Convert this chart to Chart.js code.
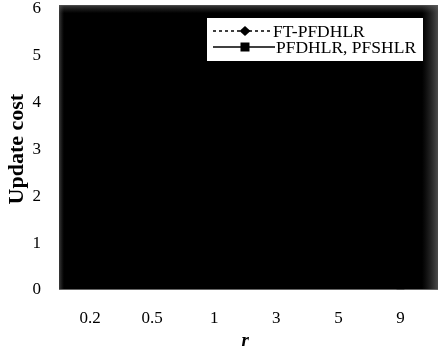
<!DOCTYPE html>
<html>
<head>
<meta charset="utf-8">
<script src="https://cdn.jsdelivr.net/npm/chart.js@4"></script>
<style>
  html, body { margin: 0; padding: 0; background: #fff; }
  #wrap { width: 438px; height: 356px; position: relative; overflow: hidden; }
  #chart { position: absolute; left: 0; top: -20px; }
</style>
</head>
<body>
<div id="wrap"><canvas id="chart" width="438" height="376"></canvas></div>
<script>
  // values (lines are hidden in the dark plot area, estimates)
  const rValues = ['0.2', '0.5', '1', '3', '5', '9'];
  const ftPfdhlr = [0.6, 0.5, 0.4, 0.3, 0.2, 0.15];
  const pfdhlr = [0.4, 0.35, 0.3, 0.2, 0.15, 0.1];
  const yTicks = [0, 1, 2, 3, 4, 5, 6];

  const serif = '"Liberation Serif", "Times New Roman", serif';
  const shift = 20; // canvas is moved up by this much

  // dark plot background like the scan
  const plotBg = {
    id: 'plotBg',
    beforeDatasetsDraw(chart) {
      const { ctx, chartArea: a } = chart;
      const top = a.top - 3;
      const right = chart.width;
      ctx.save();
      ctx.fillStyle = '#000';
      ctx.fillRect(a.left, top, right - a.left, a.bottom - top);
      let g = ctx.createLinearGradient(right - 16, 0, right, 0);
      g.addColorStop(0, 'rgba(70,70,70,0)');
      g.addColorStop(1, 'rgba(100,100,100,0.75)');
      ctx.fillStyle = g;
      ctx.fillRect(right - 16, top, 16, a.bottom - top);
      g = ctx.createLinearGradient(a.left, 0, a.left + 5, 0);
      g.addColorStop(0, 'rgba(100,100,100,0.6)');
      g.addColorStop(1, 'rgba(70,70,70,0)');
      ctx.fillStyle = g;
      ctx.fillRect(a.left, top, 5, a.bottom - top);
      g = ctx.createLinearGradient(0, top, 0, top + 8);
      g.addColorStop(0, 'rgba(100,100,100,0.6)');
      g.addColorStop(1, 'rgba(70,70,70,0)');
      ctx.fillStyle = g;
      ctx.fillRect(a.left, top, right - a.left, 8);
      ctx.fillStyle = '#666';
      ctx.fillRect(a.left, a.bottom - 1, right - a.left, 1);
      ctx.restore();
    }
  };

  // boxed legend in the top right corner
  const boxLegend = {
    id: 'boxLegend',
    afterDraw(chart) {
      const { ctx } = chart;
      const x = 207, y = 18 + shift, w = 216, h = 43;
      ctx.save();
      ctx.fillStyle = '#fff';
      ctx.fillRect(x, y, w, h);
      ctx.strokeStyle = '#000';
      ctx.lineWidth = 1.5;
      ctx.font = '17.5px ' + serif;
      ctx.fillStyle = '#000';
      ctx.textBaseline = 'middle';
      chart.data.datasets.forEach((ds, i) => {
        const ly = y + 13 + i * 16;
        ctx.setLineDash(ds.borderDash || []);
        ctx.beginPath();
        ctx.moveTo(x + 6, ly);
        ctx.lineTo(x + (i ? 68 : 63), ly);
        ctx.stroke();
        ctx.setLineDash([]);
        const mx = x + 38;
        ctx.beginPath();
        if (ds.pointStyle === 'rectRot') {
          ctx.moveTo(mx, ly - 5); ctx.lineTo(mx + 5.5, ly); ctx.lineTo(mx, ly + 5); ctx.lineTo(mx - 5.5, ly);
        } else {
          ctx.rect(mx - 4.5, ly - 4.5, 9, 9);
        }
        ctx.closePath();
        ctx.fill();
        ctx.fillText(ds.label, x + (i ? 69 : 66), ly + 1);
      });
      ctx.restore();
    }
  };

  new Chart(document.getElementById('chart'), {
    type: 'line',
    data: {
      labels: rValues,
      datasets: [
        {
          label: 'FT-PFDHLR',
          data: ftPfdhlr,
          borderColor: '#000',
          backgroundColor: '#000',
          borderWidth: 1.5,
          borderDash: [3, 3],
          pointStyle: 'rectRot',
          pointRadius: 5,
          clip: false
        },
        {
          label: 'PFDHLR, PFSHLR',
          data: pfdhlr,
          borderColor: '#000',
          backgroundColor: '#000',
          borderWidth: 1.5,
          pointStyle: 'rect',
          pointRadius: 4.5,
          clip: false
        }
      ]
    },
    options: {
      responsive: false,
      animation: false,
      layout: { padding: 0 },
      plugins: { legend: { display: false }, tooltip: { enabled: false } },
      scales: {
        x: {
          offset: true,
          grid: { display: false, drawTicks: false },
          border: { display: false },
          ticks: { color: '#000', font: { family: serif, size: 17 }, padding: 18 },
          title: {
            display: true,
            text: 'r',
            color: '#000',
            font: { family: serif, size: 19, weight: 'bold', style: 'italic' },
            padding: { top: 2 }
          },
          afterFit(s) { s.height = 66; }
        },
        y: {
          min: 0,
          max: 6,
          afterBuildTicks(s) { s.ticks = yTicks.map(v => ({ value: v })); },
          grid: { display: false, drawTicks: false },
          border: { display: false },
          ticks: { color: '#000', font: { family: serif, size: 17 }, padding: 18 },
          title: {
            display: true,
            text: 'Update cost',
            color: '#000',
            font: { family: serif, size: 22, weight: 'bold' },
            padding: { bottom: 2 }
          },
          afterFit(s) { s.width = 59; }
        }
      }
    },
    plugins: [plotBg, boxLegend]
  });
</script>
</body>
</html>
